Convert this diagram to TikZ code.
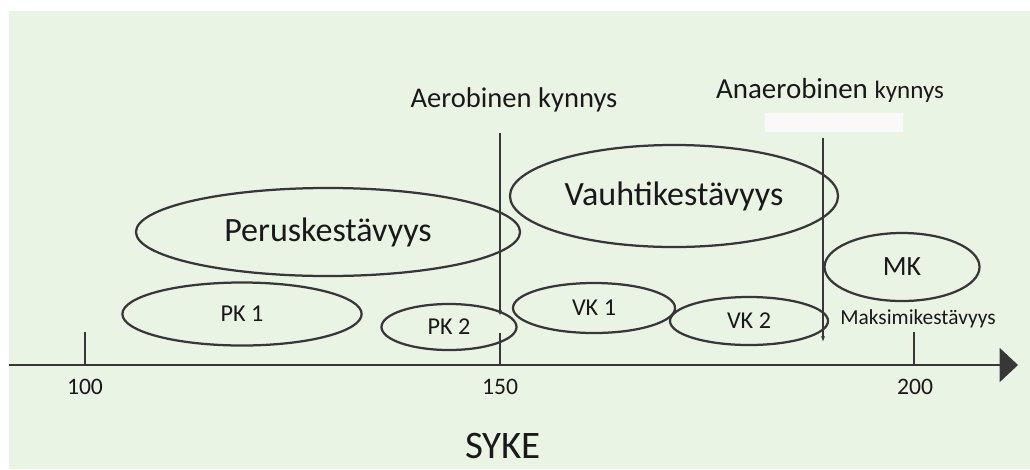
\documentclass[tikz,border=0pt]{standalone}
\usepackage{fontspec}
\setmainfont{Carlito}
\usetikzlibrary{shapes.geometric,arrows.meta}
\definecolor{bggreen}{RGB}{234,244,228}
\definecolor{linegray}{RGB}{55,55,55}
\definecolor{txt}{RGB}{25,25,25}

\begin{document}
\begin{tikzpicture}[x=0.025cm,y=-0.025cm,
 zone/.style={ellipse,draw=linegray,line width=1.6pt,inner sep=0pt,text=txt},
 big/.style={font=\fontsize{24.2}{28}\selectfont},
 small/.style={font=\fontsize{17.2}{20}\selectfont},
 num/.style={font=\fontsize{16.8}{20}\selectfont,text=txt},
 axis/.style={draw=linegray,line width=1.5pt}]

  \useasboundingbox (0,0) rectangle (1030,469);
  \fill[white] (0,0) rectangle (1030,469);
  \fill[bggreen] (9,11) rectangle (1030,469);
  \fill[white!95!gray] (765,113) rectangle (903,132);

  % axis and ticks
  \coordinate (a0) at (9,365);
  \coordinate (a1) at (1018,365);
  \coordinate (t100) at (85,332);
  \coordinate (b100) at (85,365);
  \coordinate (t150) at (500,333);
  \coordinate (b150) at (500,365);
  \coordinate (t200) at (914,332);
  \coordinate (b200) at (914,365);
  \draw[axis,-{Triangle[length=13pt,width=24pt]}] (a0) -- (a1);
  \draw[axis] (t100) -- (b100);
  \draw[axis] (t150) -- (b150);
  \draw[axis] (t200) -- (b200);

  \node[num] (l100) at (85,387) {100};
  \node[num] (l150) at (500,387) {150};
  \node[num] (l200) at (915,387) {200};
  \node[text=txt,font=\fontsize{27.7}{32}\selectfont] (syke) at (503,446) {SYKE};

  % zones
  \node[zone,big,minimum width=9.6cm,minimum height=2.2cm] (perus) at (328,232) {Peruskestävyys};
  \node[zone,big,minimum width=8.2cm,minimum height=2.55cm] (vauhti) at (674,196) {Vauhtikestävyys};
  \node[zone,small,minimum width=5.98cm,minimum height=1.575cm] (pk1) at (242,314) {PK 1};
  \node[zone,small,minimum width=3.375cm,minimum height=1.15cm] (pk2) at (449,327) {PK 2};
  \node[zone,small,minimum width=4.05cm,minimum height=1.25cm] (vk1) at (594,308) {VK 1};
  \node[zone,small,minimum width=3.95cm,minimum height=1.2cm] (vk2) at (749,321) {VK 2};
  \node[zone,font=\fontsize{19.8}{23}\selectfont,minimum width=3.875cm,minimum height=1.7cm] (mk) at (902,267) {MK};
  \node[text=txt,font=\fontsize{15.2}{18}\selectfont] (maksi) at (918,319) {Maksimikestävyys};

  % thresholds
  \node[text=txt,font=\fontsize{20.3}{24}\selectfont] (aero) at (514,100) {Aerobinen kynnys};
  \node[text=txt,font=\fontsize{20.6}{24}\selectfont] (anaero) at (830,90) {Anaerobinen {\fontsize{17.8}{20}\selectfont kynnys}};
  \coordinate (aerotop) at (500,133);
  \coordinate (aerobot) at (500,316);
  \coordinate (anaerotop) at (823,138);
  \coordinate (anaerobot) at (823,342);
  \draw[axis,-{Latex[length=4pt,width=3pt]}] (aerotop) -- (aerobot);
  \draw[axis,-{Latex[length=4pt,width=3pt]}] (anaerotop) -- (anaerobot);
\end{tikzpicture}
\end{document}
